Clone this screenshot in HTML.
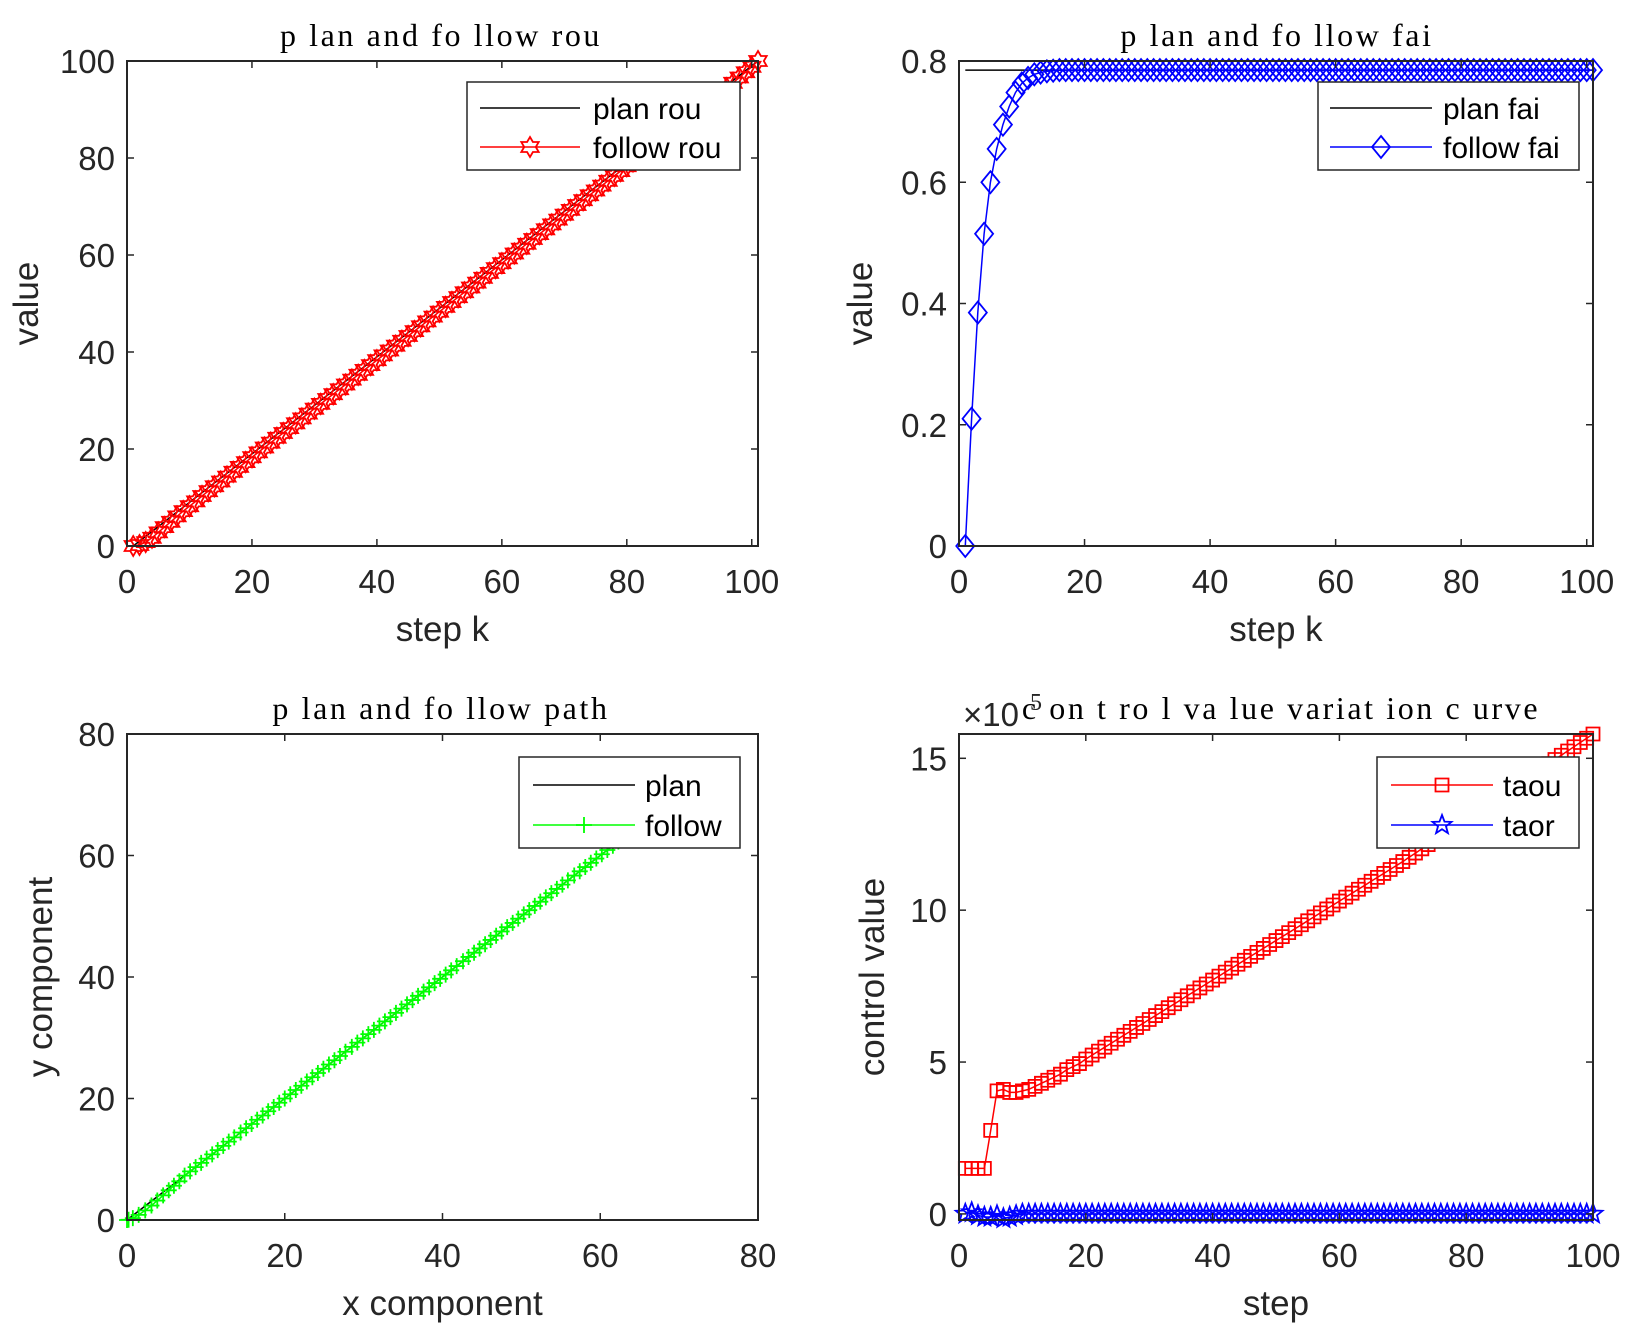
<!DOCTYPE html>
<html><head><meta charset="utf-8"><style>
html,body{margin:0;padding:0;background:#fff;}
svg{display:block;}
text{font-family:"Liberation Sans",sans-serif;fill:#262626;}
.t{font-family:"Liberation Serif",serif;fill:#000;font-size:32px;letter-spacing:2.6px;}
</style></head><body>
<svg id="fig" width="1637" height="1340" viewBox="0 0 1637 1340" xmlns="http://www.w3.org/2000/svg"></svg>
<script>
// ---- data ----
const steps101=[1,2,3,4,5,6,7,8,9,10,11,12,13,14,15,16,17,18,19,20,21,22,23,24,25,26,27,28,29,30,31,32,33,34,35,36,37,38,39,40,41,42,43,44,45,46,47,48,49,50,51,52,53,54,55,56,57,58,59,60,61,62,63,64,65,66,67,68,69,70,71,72,73,74,75,76,77,78,79,80,81,82,83,84,85,86,87,88,89,90,91,92,93,94,95,96,97,98,99,100,101];
const planRou=[0,1,2,3,4,5,6,7,8,9,10,11,12,13,14,15,16,17,18,19,20,21,22,23,24,25,26,27,28,29,30,31,32,33,34,35,36,37,38,39,40,41,42,43,44,45,46,47,48,49,50,51,52,53,54,55,56,57,58,59,60,61,62,63,64,65,66,67,68,69,70,71,72,73,74,75,76,77,78,79,80,81,82,83,84,85,86,87,88,89,90,91,92,93,94,95,96,97,98,99,100];
const followRou=[0,0.2,0.8,1.7,2.8,3.9,5.0,6.1,7.2,8.2,9.2,10.3,11.3,12.3,13.3,14.3,15.3,16.3,17.3,18.3,19.3,20.3,21.3,22.3,23.3,24.3,25.3,26.3,27.3,28.3,29.3,30.3,31.3,32.3,33.3,34.3,35.3,36.3,37.3,38.3,39.3,40.3,41.3,42.3,43.3,44.3,45.3,46.3,47.3,48.3,49.3,50.3,51.3,52.3,53.3,54.3,55.3,56.3,57.3,58.3,59.3,60.3,61.3,62.3,63.3,64.3,65.3,66.3,67.3,68.3,69.3,70.3,71.3,72.3,73.3,74.3,75.3,76.3,77.3,78.3,79.3,80.3,81.3,82.3,83.3,84.3,85.3,86.3,87.3,88.3,89.3,90.3,91.3,92.3,93.3,94.4,95.5,96.6,97.7,98.8,100];
const planFaiSteps=[1,101];
const planFai=[0.785,0.785];
const followFai=[0,0.21,0.385,0.515,0.6,0.655,0.695,0.725,0.748,0.763,0.772,0.778,0.781,0.783,0.784,0.785,0.785,0.785,0.785,0.785,0.785,0.785,0.785,0.785,0.785,0.785,0.785,0.785,0.785,0.785,0.785,0.785,0.785,0.785,0.785,0.785,0.785,0.785,0.785,0.785,0.785,0.785,0.785,0.785,0.785,0.785,0.785,0.785,0.785,0.785,0.785,0.785,0.785,0.785,0.785,0.785,0.785,0.785,0.785,0.785,0.785,0.785,0.785,0.785,0.785,0.785,0.785,0.785,0.785,0.785,0.785,0.785,0.785,0.785,0.785,0.785,0.785,0.785,0.785,0.785,0.785,0.785,0.785,0.785,0.785,0.785,0.785,0.785,0.785,0.785,0.785,0.785,0.785,0.785,0.785,0.785,0.785,0.785,0.785,0.785,0.785];
const planPathX=[0,70.7];
const planPathY=[0,70.7];
const pathX=[0,0.2,0.74,1.48,2.31,3.10,3.84,4.58,5.29,5.95,6.64,7.3,8.0,8.7,9.4,10.1,10.8,11.5,12.2,12.9,13.6,14.4,15.1,15.8,16.5,17.2,17.9,18.6,19.3,20.0,20.7,21.4,22.1,22.8,23.5,24.2,24.9,25.6,26.3,27.0,27.7,28.5,29.2,29.9,30.6,31.3,32.0,32.7,33.4,34.1,34.8,35.5,36.2,36.9,37.6,38.3,39.0,39.7,40.4,41.1,41.8,42.6,43.3,44.0,44.7,45.4,46.1,46.8,47.5,48.2,48.9,49.6,50.3,51.0,51.7,52.4,53.1,53.8,54.5,55.2,55.9,56.7,57.4,58.1,58.8,59.5,60.2,60.9,61.6,62.3,63.0,63.7,64.4,65.1,65.9,66.7,67.5,68.3,69.1,69.9,70.7];
const pathY=[0,0.04,0.3,0.84,1.58,2.38,3.2,4.05,4.89,5.64,6.37,7.3,8.0,8.7,9.4,10.1,10.8,11.5,12.2,12.9,13.6,14.4,15.1,15.8,16.5,17.2,17.9,18.6,19.3,20.0,20.7,21.4,22.1,22.8,23.5,24.2,24.9,25.6,26.3,27.0,27.7,28.5,29.2,29.9,30.6,31.3,32.0,32.7,33.4,34.1,34.8,35.5,36.2,36.9,37.6,38.3,39.0,39.7,40.4,41.1,41.8,42.6,43.3,44.0,44.7,45.4,46.1,46.8,47.5,48.2,48.9,49.6,50.3,51.0,51.7,52.4,53.1,53.8,54.5,55.2,55.9,56.7,57.4,58.1,58.8,59.5,60.2,60.9,61.6,62.3,63.0,63.7,64.4,65.1,65.9,66.7,67.5,68.3,69.1,69.9,70.7];
const steps100=[1,2,3,4,5,6,7,8,9,10,11,12,13,14,15,16,17,18,19,20,21,22,23,24,25,26,27,28,29,30,31,32,33,34,35,36,37,38,39,40,41,42,43,44,45,46,47,48,49,50,51,52,53,54,55,56,57,58,59,60,61,62,63,64,65,66,67,68,69,70,71,72,73,74,75,76,77,78,79,80,81,82,83,84,85,86,87,88,89,90,91,92,93,94,95,96,97,98,99,100];
const taou=[1.5,1.5,1.5,1.5,2.75,4.05,4.1,4.0,4.0,4.05,4.1,4.2,4.3,4.4,4.5,4.6,4.75,4.85,4.95,5.1,5.23,5.36,5.49,5.62,5.75,5.88,6.01,6.14,6.27,6.40,6.53,6.66,6.79,6.92,7.05,7.18,7.31,7.44,7.57,7.70,7.83,7.96,8.09,8.22,8.35,8.48,8.61,8.74,8.87,9.00,9.13,9.26,9.39,9.52,9.65,9.78,9.91,10.04,10.17,10.30,10.43,10.56,10.69,10.82,10.95,11.08,11.21,11.34,11.47,11.60,11.74,11.88,12.02,12.16,12.30,12.44,12.58,12.72,12.86,13.00,13.14,13.28,13.42,13.56,13.70,13.84,13.98,14.12,14.26,14.40,14.54,14.68,14.82,14.96,15.10,15.24,15.38,15.52,15.66,15.80];
const taor=[0,0.05,-0.05,-0.1,-0.1,-0.05,-0.15,-0.1,-0.05,0,0,0,0,0,0,0,0,0,0,0,0,0,0,0,0,0,0,0,0,0,0,0,0,0,0,0,0,0,0,0,0,0,0,0,0,0,0,0,0,0,0,0,0,0,0,0,0,0,0,0,0,0,0,0,0,0,0,0,0,0,0,0,0,0,0,0,0,0,0,0,0,0,0,0,0,0,0,0,0,0,0,0,0,0,0,0,0,0,0,0];
const ticks100=[0,20,40,60,80,100];
const ticksFai=[0,0.2,0.4,0.6,0.8];
const ticksFaiLabels=["0","0.2","0.4","0.6","0.8"];
const ticks80=[0,20,40,60,80];
const ticksCtl=[0,5,10,15];

// ---- drawing ----
const NS="http://www.w3.org/2000/svg";
const fig=document.getElementById('fig');
function mk(tag,attrs,parent){const e=document.createElementNS(NS,tag);for(const k in attrs)e.setAttribute(k,attrs[k]);(parent||fig).appendChild(e);return e;}
function axes(o){
  const g=mk('g',{});
  
  
  const sx=v=>o.L+(v-o.x0)/(o.x1-o.x0)*(o.R-o.L);
  const sy=v=>o.B-(v-o.y0)/(o.y1-o.y0)*(o.B-o.T);
  o.sx=sx;o.sy=sy;o.g=g;
  return o;
}
function frame(o){
  const g=o.g;
  mk('rect',{x:o.L,y:o.T,width:o.R-o.L,height:o.B-o.T,fill:'none',stroke:'#262626','stroke-width':2},g);
  o.xt.forEach((v,i)=>{const x=o.sx(v);
    mk('line',{x1:x,y1:o.B,x2:x,y2:o.B-7,stroke:'#262626','stroke-width':1.5},g);
    mk('line',{x1:x,y1:o.T,x2:x,y2:o.T+7,stroke:'#262626','stroke-width':1.5},g);
    const t=mk('text',{x:x,y:o.B+47,'text-anchor':'middle','font-size':33},g);t.textContent=(o.xl?o.xl[i]:String(v));
    
    
  });
  o.yt.forEach((v,i)=>{const y=o.sy(v);
    mk('line',{x1:o.L,y1:y,x2:o.L+7,y2:y,stroke:'#262626','stroke-width':1.5},g);
    mk('line',{x1:o.R,y1:y,x2:o.R-7,y2:y,stroke:'#262626','stroke-width':1.5},g);
    const t=mk('text',{x:o.L-12,y:y+12,'text-anchor':'end','font-size':33},g);t.textContent=(o.yl?o.yl[i]:String(v));
    
    
  });
  const xl=mk('text',{x:(o.L+o.R)/2,y:o.B+95,'text-anchor':'middle','font-size':35},g);xl.textContent=o.xlabel;
  
  
  const cy=(o.T+o.B)/2, cx=o.ylx;
  const yl=mk('text',{x:cx,y:cy,'text-anchor':'middle','font-size':35,transform:`rotate(-90 ${cx} ${cy})`},g);yl.textContent=o.ylabel;
  
  
  const tt=mk('text',{x:o.tx,y:o.T-15,'text-anchor':'middle',class:'t','xml:space':'preserve'},g);tt.textContent=o.title;
  
  
}
function marker(type,x,y,color,parent){
  let d;
  if(type==='hex'){const r=10,r2=5.8;let p=[];for(let i=0;i<12;i++){const a=-Math.PI/2+i*Math.PI/6;const rr=i%2?r2:r;p.push((x+rr*Math.cos(a)).toFixed(1)+','+(y+rr*Math.sin(a)).toFixed(1));}d='M'+p.join('L')+'Z';}
  else if(type==='star'){const r=10,r2=4.2;let p=[];for(let i=0;i<10;i++){const a=-Math.PI/2+i*Math.PI/5;const rr=i%2?r2:r;p.push((x+rr*Math.cos(a)).toFixed(1)+','+(y+rr*Math.sin(a)).toFixed(1));}d='M'+p.join('L')+'Z';}
  else if(type==='dia'){d=`M${x},${y-11}L${x+9},${y}L${x},${y+11}L${x-9},${y}Z`;}
  else if(type==='sq'){d=`M${x-6.5},${y-6.5}h13v13h-13Z`;}
  else if(type==='plus'){d=`M${x-8},${y}H${x+8}M${x},${y-8}V${y+8}`;}
  const m=mk('path',{d:d,fill:'none',stroke:color,'stroke-width':1.8},parent);
  return m;
}
function series(o,xs,ys,color,mtype,name){
  const g=mk('g',{},o.g);
  
  
  const pts=xs.map((v,i)=>o.sx(v).toFixed(1)+','+o.sy(ys[i]).toFixed(1)).join(' ');
  mk('polyline',{points:pts,fill:'none',stroke:color,'stroke-width':1.5},g);
  if(mtype) xs.forEach((v,i)=>{const m=marker(mtype,o.sx(v),o.sy(ys[i]),color,g);
    
    });
}
function legend(x1,y1,x2,y2,entries){
  const g=mk('g',{});
  
  
  mk('rect',{x:x1,y:y1,width:x2-x1,height:y2-y1,fill:'#fff',stroke:'#262626','stroke-width':1.5},g);
  entries.forEach(e=>{
    const eg=mk('g',{},g);
    
    
    mk('line',{x1:e.lx1,y1:e.y,x2:e.lx2,y2:e.y,stroke:e.c,'stroke-width':1.5},eg);
    if(e.m) marker(e.m,(e.lx1+e.lx2)/2,e.y,e.c,eg);
    const t=mk('text',{x:e.tx,y:e.y+11,'font-size':30,fill:'#000'},eg);t.textContent=e.t;t.style.fill='#000';
  });
}

// Top-left
const A=axes({name:'rou-chart',L:127,R:758,T:61,B:546,x0:0,x1:101,y0:0,y1:100});
series(A,steps101,planRou,'#000',null,'plan-rou-line');
series(A,steps101,followRou,'#ff0000','hex','follow-rou-series');
A.xt=ticks100;A.yt=ticks100;A.xlabel='step k';A.ylabel='value';A.ylx=38;A.tx=441;A.title='p lan and fo llow  rou';
frame(A);
legend(467,82,740,170,[{lx1:480,lx2:580,y:108,c:'#000',t:'plan rou',tx:593},{lx1:480,lx2:580,y:147,c:'#ff0000',m:'hex',t:'follow rou',tx:593}]);

// Top-right
const B=axes({name:'fai-chart',L:959,R:1593,T:61,B:546,x0:0,x1:101,y0:0,y1:0.8});
series(B,planFaiSteps,planFai,'#000',null,'plan-fai-line');
series(B,steps101,followFai,'#0000ff','dia','follow-fai-series');
B.xt=ticks100;B.yt=ticksFai;B.yl=ticksFaiLabels;B.xlabel='step k';B.ylabel='value';B.ylx=872;B.tx=1277;B.title='p lan and fo llow  fai';
frame(B);
legend(1318,82,1579,170,[{lx1:1330,lx2:1432,y:108,c:'#000',t:'plan fai',tx:1443},{lx1:1330,lx2:1432,y:147,c:'#0000ff',m:'dia',t:'follow fai',tx:1443}]);

// Bottom-left
const C=axes({name:'path-chart',L:127,R:758,T:734,B:1220,x0:0,x1:80,y0:0,y1:80});
series(C,planPathX,planPathY,'#000',null,'plan-path-line');
series(C,pathX,pathY,'#00ff00','plus','follow-path-series');
C.xt=ticks80;C.yt=ticks80;C.xlabel='x component';C.ylabel='y component';C.ylx=52;C.tx=441;C.title='p lan and fo llow  path';
frame(C);
legend(519,757,740,848,[{lx1:533,lx2:635,y:785,c:'#000',t:'plan',tx:645},{lx1:533,lx2:635,y:825,c:'#00ff00',m:'plus',t:'follow',tx:645}]);

// Bottom-right
const D=axes({name:'control-chart',L:959,R:1593,T:734,B:1220,x0:0,x1:100,y0:-0.2,y1:15.8});
series(D,steps100,taou,'#ff0000','sq','taou-series');
series(D,steps100,taor,'#0000ff','star','taor-series');
D.xt=ticks100;D.yt=ticksCtl;D.xlabel='step';D.ylabel='control value';D.ylx=884;D.tx=1281;D.title='c on t ro l va lue  variat ion  c urve';
frame(D);
const ex=mk('text',{x:963,y:726,'font-size':33});ex.textContent='×10';


const ex5=mk('text',{x:1030,y:710,'font-size':24,style:'font-family:Liberation Serif,serif'});ex5.textContent='5';


legend(1377,757,1579,848,[{lx1:1391,lx2:1493,y:785,c:'#ff0000',m:'sq',t:'taou',tx:1503},{lx1:1391,lx2:1493,y:825,c:'#0000ff',m:'star',t:'taor',tx:1503}]);
</script>
</body></html>
